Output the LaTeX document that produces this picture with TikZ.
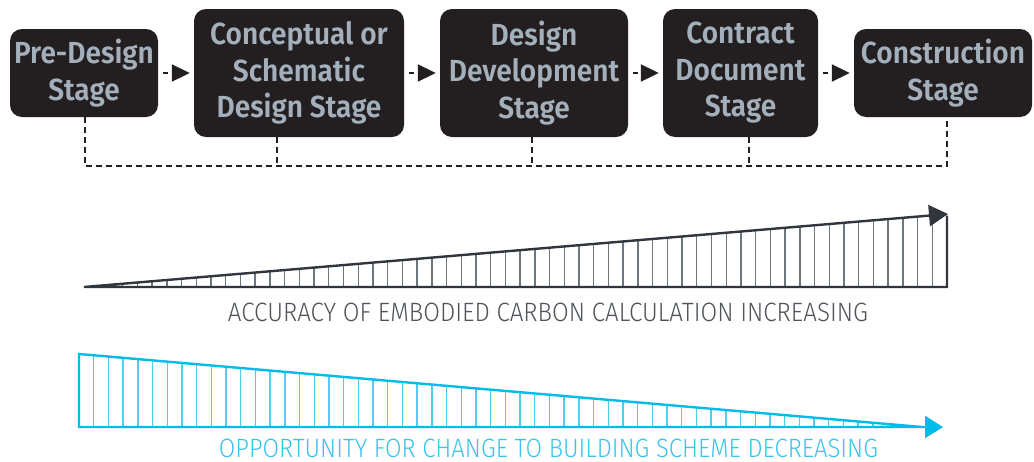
\documentclass[tikz,border=0pt]{standalone}
\usepackage{fontspec}
\usepackage{graphicx}
\usetikzlibrary{arrows.meta}

% Fonts: semibold sans for the stage boxes, light sans for the captions
\newfontfamily\stagefont[FakeStretch=0.92, BoldFont={Fira Sans SemiBold}]{Fira Sans}
\newfontfamily\capsfont{Fira Sans Light}

% Colours
\definecolor{boxfill}{RGB}{35,31,32}
\definecolor{stagetext}{RGB}{163,176,188}
\definecolor{darkedge}{RGB}{48,54,60}
\definecolor{darkhatch}{RGB}{110,118,126}
\definecolor{darktext}{RGB}{78,84,90}
\definecolor{cyanedge}{RGB}{0,188,232}
\definecolor{cyanhatch}{RGB}{80,204,238}
\definecolor{cyantext}{RGB}{60,195,236}

\begin{document}
\begin{tikzpicture}[x=1pt,y=-1pt,
  stagebox/.style={fill=boxfill, rounded corners=12pt, inner sep=0pt,
    align=center, text=stagetext,
    font={\stagefont\bfseries\fontsize{30.5}{36.5}\selectfont}},
  flow/.style={line width=2pt, draw=boxfill, dash pattern=on 5pt off 20pt,
    shorten <=5pt, shorten >=4pt,
    -{Triangle[length=18pt,width=17pt]}},
  feedback/.style={line width=2.2pt, draw=boxfill, dash pattern=on 6pt off 4pt},
  darkrim/.style={line width=2.4pt, draw=darkedge, line join=miter},
  darkrule/.style={line width=1.4pt, draw=darkhatch},
  cyanrim/.style={line width=2.4pt, draw=cyanedge, line join=miter},
  cyanrule/.style={line width=1.4pt, draw=cyanhatch},
  caption/.style={inner sep=0pt, font={\capsfont\fontsize{26.5}{30}\selectfont}}
]
% canvas
\path[fill=white] (0,0) rectangle (1034,461);

% ---- stage boxes ----
\node[stagebox, minimum width=148pt, minimum height=88pt]  (b1) at (84,73)    {Pre-Design\\Stage};
\node[stagebox, minimum width=210pt, minimum height=128pt] (b2) at (299,73)   {Conceptual or\\Schematic\\Design Stage};
\node[stagebox, minimum width=188pt, minimum height=128pt] (b3) at (534,73)   {Design\\Development\\Stage};
\node[stagebox, minimum width=155pt, minimum height=128pt] (b4) at (740.5,73) {Contract\\Document\\Stage};
\node[stagebox, minimum width=178pt, minimum height=88pt]  (b5) at (943,73)   {Construction\\Stage};

% ---- forward arrows ----
\draw[flow] (b1.east) -- (b2.west);
\draw[flow] (b2.east) -- (b3.west);
\draw[flow] (b3.east) -- (b4.west);
\draw[flow] (b4.east) -- (b5.west);

% ---- dashed feedback line under the stages ----
\coordinate (fb1) at (85,166);
\coordinate (fb2) at (277,166);
\coordinate (fb3) at (532,166);
\coordinate (fb4) at (749,166);
\coordinate (fb5) at (947,166);
\draw[feedback] (fb1 |- b1.south) -- (fb1) -- (fb5) -- (fb5 |- b5.south);
\draw[feedback] (fb2 |- b2.south) -- (fb2);
\draw[feedback] (fb3 |- b3.south) -- (fb3);
\draw[feedback] (fb4 |- b4.south) -- (fb4);

% ---- rising wedge: accuracy ----
\foreach \n in {1,...,58}{
  \pgfmathsetmacro{\hx}{947-14.72*\n}
  \pgfmathsetmacro{\hy}{287-(73/864)*(\hx-84)}
  \draw[darkrule] (\hx,287) -- (\hx,\hy);
}
\draw[darkrim, -{Triangle[length=19pt,width=21pt]}]
  (947,215.5) -- (947,287) -- (84,287) -- (948,214);
\node[caption, text=darktext] (acc) at (548,312)
  {\resizebox{640pt}{\height}{ACCURACY OF EMBODIED CARBON CALCULATION INCREASING}};

% ---- falling wedge: opportunity ----
\foreach \n in {1,...,56}{
  \pgfmathsetmacro{\hx}{79+14.7*\n}
  \pgfmathsetmacro{\hy}{354+(72/843)*(\hx-79)}
  \draw[cyanrule] (\hx,427) -- (\hx,\hy);
}
\draw[cyanrim, -{Triangle[length=18pt,width=22pt]}]
  (922,427) -- (79,354) -- (79,427) -- (943,427);
\node[caption, text=cyantext] (opp) at (548.5,448)
  {\resizebox{659pt}{\height}{OPPORTUNITY FOR CHANGE TO BUILDING SCHEME DECREASING}};
\end{tikzpicture}
\end{document}
